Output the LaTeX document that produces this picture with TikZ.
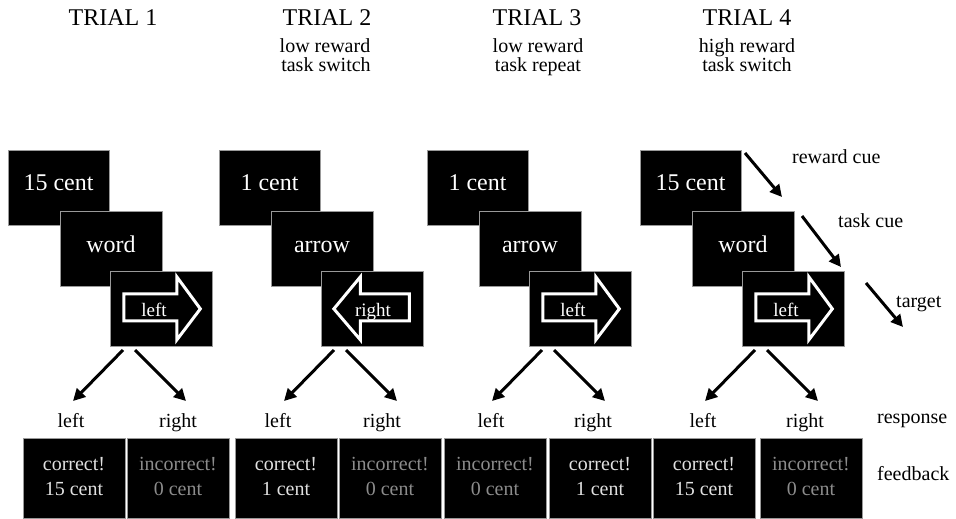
\documentclass[tikz,border=0pt]{standalone}
\usepackage{fontspec}
\setmainfont{Liberation Serif}
\usetikzlibrary{arrows.meta}
\newcommand\myfs[1]{\fontsize{#1}{#1}\selectfont}
\begin{document}
\begin{tikzpicture}[x=1pt,y=-1pt,
  blackbox/.style={fill=black, draw=black!40, line width=0.7pt, inner sep=0pt, anchor=north west},
  cuebox/.style={blackbox, minimum width=101pt, minimum height=75pt},
  fbbox/.style={blackbox, minimum width=102pt, minimum height=80pt},
  boxtxt/.style={text=white, font=\myfs{24}, anchor=base, inner sep=0pt},
  arrtxt/.style={text=white, font=\myfs{19}, anchor=base, inner sep=0pt},
  titletxt/.style={font=\myfs{24}, anchor=base, inner sep=0pt},
  lbl/.style={font=\myfs{20}, anchor=base, inner sep=0pt},
  sidelbl/.style={lbl, anchor=base west},
  good/.style={lbl, text=black!12},
  bad/.style={lbl, text=black!45},
  conn/.style={line width=3pt, -{Triangle[length=12pt,width=12pt]}},
  outline/.style={draw=white, line width=3pt, line join=miter}]
\useasboundingbox (0,0) rectangle (956,519);

% titles
\node[titletxt] (T1) at (113,26) {TRIAL 1};
\node[titletxt] (T2) at (327,26) {TRIAL 2};
\node[titletxt] (T3) at (537,26) {TRIAL 3};
\node[titletxt] (T4) at (747,26) {TRIAL 4};
\node[lbl] (S2a) at (325,53) {low reward};
\node[lbl] (S2b) at (326,72) {task switch};
\node[lbl] (S3a) at (538,53) {low reward};
\node[lbl] (S3b) at (538,72) {task repeat};
\node[lbl] (S4a) at (747,53) {high reward};
\node[lbl] (S4b) at (747,72) {task switch};

% trials
\foreach \k/\X/\rw/\tk/\tl/\tb/\tp/\tx/\tt in {
  1/8/15 cent/word/-37.5/15.5/39/-7/left,
  2/219/1 cent/arrow/37/-12/-38.5/1/right,
  3/427/1 cent/arrow/-37.5/15.5/39/-7/left,
  4/640/15 cent/word/-37.5/15.5/39/-7/left}{
  \node[cuebox] (r\k) at (\X,150) {};
  \node[boxtxt] (rt\k) at ({\X+50.5},190) {\rw};
  \node[cuebox, minimum width=102pt] (c\k) at ({\X+52},211) {};
  \node[boxtxt] (ct\k) at ({\X+103},252) {\tk};
  \node[cuebox, minimum width=102pt] (t\k) at ({\X+102},271) {};
  \begin{scope}[shift={(t\k.center)}]
    \draw[outline] (\tl,-15) -- (\tb,-15) -- (\tb,-32) -- (\tp,0) -- (\tb,31) -- (\tb,12) -- (\tl,12) -- cycle;
  \end{scope}
  \node[arrtxt] (tt\k) at ({\X+153+\tx},316) {\tt};
  \coordinate (ls\k) at ({\X+115},350);
  \coordinate (le\k) at ({\X+65},401);
  \coordinate (rs\k) at ({\X+127},350);
  \coordinate (re\k) at ({\X+178},401);
  \draw[conn] (ls\k) -- (le\k);
  \draw[conn] (rs\k) -- (re\k);
}

% response labels
\foreach \i/\x/\t in {1/71/left, 2/178/right, 3/278/left, 4/382/right,
                      5/491/left, 6/593/right, 7/703/left, 8/805/right}{
  \node[lbl] (resp\i) at (\x,427) {\t};
}

% feedback boxes
\foreach \i/\x/\a/\b/\s in {1/23/correct!/15 cent/good, 2/127/incorrect!/0 cent/bad,
    3/235/correct!/1 cent/good, 4/339/incorrect!/0 cent/bad,
    5/444/incorrect!/0 cent/bad, 6/549/correct!/1 cent/good,
    7/653/correct!/15 cent/good, 8/760/incorrect!/0 cent/bad}{
  \node[fbbox] (f\i) at (\x,438) {};
  \node[\s] (fa\i) at ({\x+51},470) {\a};
  \node[\s] (fb\i) at ({\x+51},495) {\b};
}

% stage labels and arrows
\node[sidelbl] (lrc) at (792,163) {reward cue};
\node[sidelbl] (ltc) at (838,227) {task cue};
\node[sidelbl] (ltg) at (896,307) {target};
\node[sidelbl] (lrs) at (877,423) {response};
\node[sidelbl] (lfb) at (877,480) {feedback};
\coordinate (a1s) at (745,153); \coordinate (a1e) at (782,197);
\coordinate (a2s) at (802,216); \coordinate (a2e) at (841,267);
\coordinate (a3s) at (866,283); \coordinate (a3e) at (903,327);
\draw[conn] (a1s) -- (a1e);
\draw[conn] (a2s) -- (a2e);
\draw[conn] (a3s) -- (a3e);
\end{tikzpicture}
\end{document}
